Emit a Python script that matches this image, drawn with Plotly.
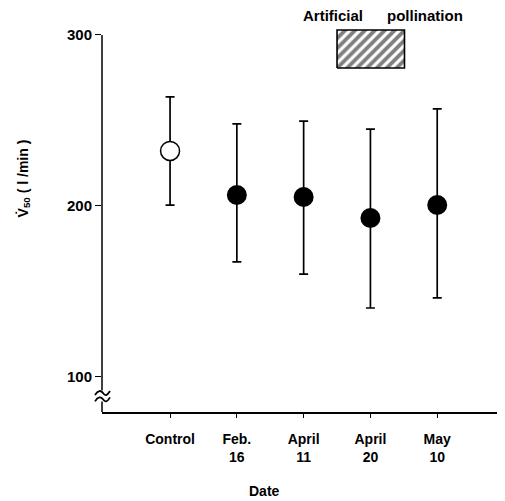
import plotly.graph_objects as go

# ---- data ----
categories = ["Control", "Feb.<br>16", "April<br>11", "April<br>20", "May<br>10"]
x_pos = [0, 1, 2, 3, 4]
means = [232.1, 206.3, 205.1, 192.8, 200.4]
upper = [263.7, 247.9, 249.6, 244.9, 256.7]
lower = [200.4, 167.1, 160.0, 140.1, 146.0]
y_ticks = [100, 200, 300]
pollination_span = [2.50, 3.51]     # x extent of hatched box (date axis units)
pollination_level = [280.7, 302.9]  # y extent of hatched box

err_plus = [u - m for u, m in zip(upper, means)]
err_minus = [m - l for m, l in zip(means, lower)]

FONT = "Liberation Sans"
fig = go.Figure()

# control (open circle)
fig.add_trace(go.Scatter(
    x=x_pos[:1], y=means[:1], mode="markers",
    marker=dict(symbol="circle", size=19, color="white",
                line=dict(color="black", width=1.5)),
    error_y=dict(type="data", array=err_plus[:1], arrayminus=err_minus[:1],
                 color="black", thickness=1.7, width=4.5),
    showlegend=False, cliponaxis=False))

# dates (filled)
fig.add_trace(go.Scatter(
    x=x_pos[1:], y=means[1:], mode="markers",
    marker=dict(symbol="circle", size=20, color="black",
                line=dict(color="black", width=0)),
    error_y=dict(type="data", array=err_plus[1:], arrayminus=err_minus[1:],
                 color="black", thickness=1.7, width=4.5),
    showlegend=False, cliponaxis=False))

# hatched box
x0, x1 = pollination_span
y0, y1 = pollination_level
fig.add_trace(go.Scatter(
    x=[x0, x1, x1, x0, x0], y=[y0, y0, y1, y1, y0], mode="lines",
    fill="toself", fillcolor="white",
    fillpattern=dict(shape="/", fgcolor="black", bgcolor="white", size=7, solidity=0.55),
    line=dict(color="black", width=1.6), showlegend=False, hoverinfo="skip"))

YMIN, YMAX = 79.2, 305.26
fig.update_layout(
    width=497, height=493,
    margin=dict(l=94, r=5, t=18, b=89),
    plot_bgcolor="white", paper_bgcolor="white",
    font=dict(family=FONT, color="black", size=14, weight="bold"),
    xaxis=dict(range=[-1.019, 4.94], tickvals=x_pos, ticktext=categories,
               showline=True, linecolor="black", linewidth=1.5,
               ticks="outside", ticklen=4, tickwidth=1.2, tickcolor="black",
               ticklabelstandoff=9,
               showgrid=False, zeroline=False,
               tickfont=dict(family=FONT, size=14, weight="bold")),
    yaxis=dict(range=[YMIN, YMAX], tickvals=y_ticks,
               showline=False, ticks="outside", ticklen=6, tickwidth=1.2,
               tickcolor="black", showgrid=False, zeroline=False,
               tickfont=dict(family=FONT, size=15, weight="bold")),
)

# y axis line with break
fig.add_shape(type="line", xref="paper", yref="y", x0=0, x1=0, y0=92.0, y1=300,
              line=dict(color="black", width=1.5))
fig.add_shape(type="line", xref="paper", yref="y", x0=0, x1=0, y0=YMIN, y1=85.3,
              line=dict(color="black", width=1.5))
for yc in [90.3, 86.6]:
    fig.add_shape(type="path", xref="paper", yref="y",
                  xsizemode="pixel", ysizemode="pixel", xanchor=0, yanchor=yc,
                  path="M -7,-2 C -4,3 -1,3 1,0 S 5,-3 8,2",
                  line=dict(color="black", width=1.8))

# texts
fig.add_annotation(xref="x", yref="paper", x=1.42, y=-0.2047, text="Date",
                   xanchor="center", yanchor="middle",
                   showarrow=False, font=dict(size=14, weight="bold"))
fig.add_annotation(xref="paper", yref="paper", x=-0.196, y=0.605,
                   xanchor="center", yanchor="middle",
                   text="V\u0307<sub>50</sub> ( l /min )", textangle=-90,
                   showarrow=False, font=dict(size=14, weight="bold"))
fig.add_annotation(xref="x", yref="paper", x=2.44, y=1.026, text="Artificial",
                   xanchor="center", yanchor="middle",
                   showarrow=False, font=dict(size=15, weight="bold"))
fig.add_annotation(xref="x", yref="paper", x=3.82, y=1.026, text="pollination",
                   xanchor="center", yanchor="middle",
                   showarrow=False, font=dict(size=15, weight="bold"))

fig.write_html("out.html")
